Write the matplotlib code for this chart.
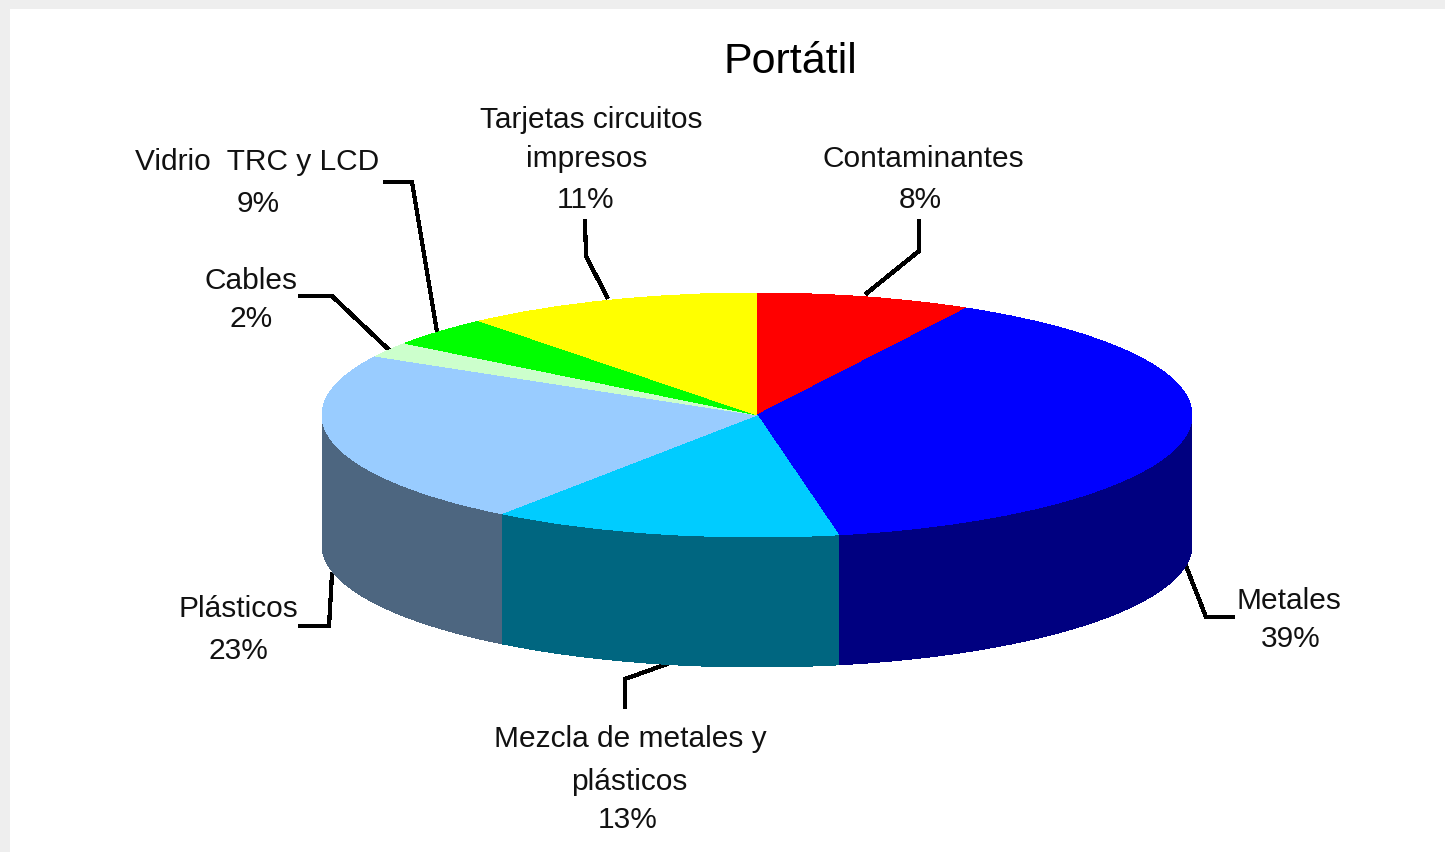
import matplotlib
matplotlib.use('Agg')
import matplotlib.pyplot as plt
from matplotlib.patches import Rectangle
import numpy as np

# slice sizes as drawn (the printed labels add up to more than 100)
slice_shares = [8, 39, 13, 23, 2, 4, 11]
top_colors = ['#FF0000', '#0000FF', '#00CCFF', '#99CCFF', '#CCFFCC', '#00FF00', '#FFFF00']
side_colors = ['#800000', '#000080', '#006680', '#4D6680', '#668066', '#008000', '#808000']

label_names = ['Contaminantes', 'Metales', 'Mezcla de metales y\nplásticos', 'Plásticos',
               'Cables', 'Vidrio  TRC y LCD', 'Tarjetas circuitos\nimpresos']
label_pcts = ['8%', '39%', '13%', '23%', '2%', '9%', '11%']

W, H = 1445, 853
CX, CY, RX, RY, DEPTH = 757, 416, 435, 122, 130
FONT = ['Liberation Sans', 'DejaVu Sans']

fig = plt.figure(figsize=(W / 100, H / 100), dpi=100, facecolor='#EEEEEE')

# background axes in picture pixels: panel, texts, leader lines
bg = fig.add_axes([0, 0, 1, 1], zorder=0)
bg.set_xlim(0, W)
bg.set_ylim(H, 0)
bg.axis('off')
bg.add_patch(Rectangle((10, 10), W - 10, H - 10, facecolor='white', edgecolor='none'))

# pie axes: one data unit is one radius
ax = fig.add_axes([0, 0, 1, 1], zorder=1)
ax.patch.set_alpha(0)

ends = np.cumsum(slice_shares) / np.sum(slice_shares) * 2 * np.pi
starts = np.r_[0, ends[:-1]]
d = DEPTH / RY

# side wall, only the front half of the rim shows
for a, b, col in zip(starts, ends, side_colors):
    a2, b2 = max(a, np.pi / 2), min(b, 3 * np.pi / 2)
    if b2 <= a2:
        continue
    t = np.linspace(a2, b2, 200)
    x = np.sin(t)
    y = np.cos(t)
    ax.fill(np.r_[x, x[::-1]], np.r_[y, y[::-1] - d], color=col, lw=0, antialiased=False)

ax.pie(slice_shares, colors=top_colors, startangle=90, counterclock=False,
       wedgeprops={'linewidth': 0, 'antialiased': False})
ax.set_aspect('auto')
ax.set_xlim(-CX / RX, (W - CX) / RX)
ax.set_ylim((CY - H) / RY, CY / RY)
ax.axis('off')

# leader lines
leaders = [
    ([919, 919, 867], [222, 252, 294]),
    ([1186, 1206, 1233], [567, 618, 618]),
    ([667, 625, 625], [665, 680, 708]),
    ([332, 329, 300], [575, 627, 627]),
    ([300, 332, 388], [297, 297, 350]),
    ([385, 412, 437], [183, 183, 333]),
    ([585, 586, 607], [222, 257, 298]),
]
for xs, ys in leaders:
    bg.plot(xs, ys, color='black', lw=2.3, solid_joinstyle='miter', antialiased=False)

# label text: one (x, y) per line, the percentage line last
label_pos = [
    [(923, 158), (920, 199)],
    [(1289, 600), (1291, 638)],
    [(630, 738), (629, 781), (628, 819)],
    [(238, 608), (238, 650)],
    [(251, 280), (251, 318)],
    [(257, 161), (258, 203)],
    [(591, 119), (587, 158), (586, 199)],
]
for name, pct, pos in zip(label_names, label_pcts, label_pos):
    lines = name.split('\n') + [pct]
    for line, (x, y) in zip(lines, pos):
        bg.text(x, y + 1, line, ha='center', va='center', fontsize=21.5, family=FONT, color='#111111')

bg.text(790, 62, 'Portátil', ha='center', va='center', fontsize=31, family=FONT, color='black')

fig.savefig('out.png', dpi=100, facecolor=fig.get_facecolor())
